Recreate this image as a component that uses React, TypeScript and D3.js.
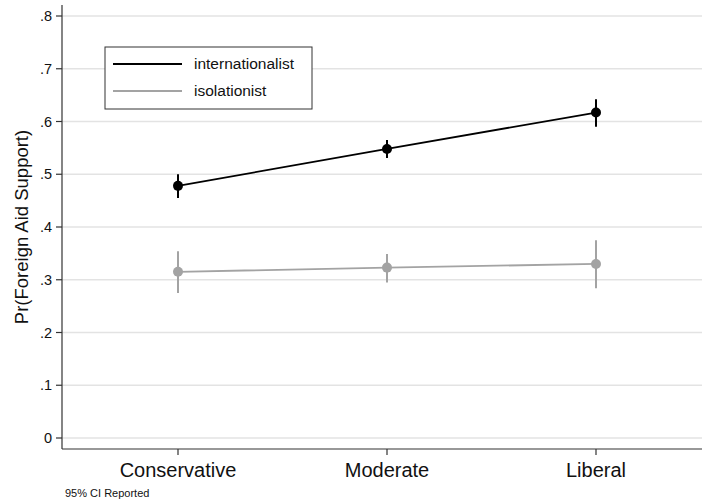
import * as d3 from "d3";

const categories = ["Conservative", "Moderate", "Liberal"];
const yTicks = [0, 0.1, 0.2, 0.3, 0.4, 0.5, 0.6, 0.7, 0.8];

// point estimate, lower and upper 95% CI
const internationalist = [0.478, 0.548, 0.617];
const internationalistLo = [0.455, 0.531, 0.59];
const internationalistHi = [0.5, 0.565, 0.642];

const isolationist = [0.315, 0.323, 0.33];
const isolationistLo = [0.275, 0.295, 0.284];
const isolationistHi = [0.354, 0.349, 0.375];

const series = [
  { name: "internationalist", color: "#000000", est: internationalist, lo: internationalistLo, hi: internationalistHi },
  { name: "isolationist", color: "#a3a3a3", est: isolationist, lo: isolationistLo, hi: isolationistHi },
];

export default function App() {
  const width = 703;
  const height = 504;
  const left = 62;
  const right = 702;
  const top = 5;
  const bottom = 449;
  const font = "'Liberation Sans', Arial, Helvetica, sans-serif";

  const x = d3.scaleLinear().domain([0, 2]).range([178, 596]);
  const y = d3.scaleLinear().domain([0, 0.8]).range([438, 16]);

  const line = d3
    .line<number>()
    .x((_, i) => x(i))
    .y((d) => y(d));

  const fmt = (d: number) => (d === 0 ? "0" : d3.format(".1f")(d).replace(/^0/, ""));

  return (
    <svg
      width={width}
      height={height}
      style={{ position: "absolute", left: 0, top: 0, background: "#fff" }}
      fontFamily={font}
    >
      {/* gridlines */}
      {yTicks.map((t) => (
        <line key={"g" + t} x1={left} x2={right} y1={y(t)} y2={y(t)} stroke="#e3e3e3" strokeWidth={1.5} />
      ))}

      {/* y axis */}
      <line x1={left} x2={left} y1={top} y2={bottom} stroke="#333" strokeWidth={1.2} />
      {yTicks.map((t) => (
        <g key={"t" + t}>
          <line x1={left - 6} x2={left} y1={y(t)} y2={y(t)} stroke="#333" strokeWidth={1.2} />
          <text x={left - 10} y={y(t)} dy="0.35em" textAnchor="end" fontSize={14.5} fill="#111">
            {fmt(t)}
          </text>
        </g>
      ))}
      <text
        transform={`translate(22,${(top + bottom) / 2}) rotate(-90)`}
        textAnchor="middle"
        dy="0.35em"
        fontSize={18.5}
        fill="#111"
      >
        Pr(Foreign Aid Support)
      </text>

      {/* x axis */}
      <line x1={left} x2={right} y1={bottom} y2={bottom} stroke="#333" strokeWidth={1.2} />
      {categories.map((c, i) => (
        <g key={c}>
          <line x1={x(i)} x2={x(i)} y1={bottom} y2={bottom + 6} stroke="#333" strokeWidth={1.2} />
          <text x={x(i)} y={bottom + 21} dy="0.35em" textAnchor="middle" fontSize={20} fill="#111">
            {c}
          </text>
        </g>
      ))}

      {/* series */}
      {series.map((s) => (
        <g key={s.name}>
          {s.est.map((_, i) => (
            <line
              key={"ci" + i}
              x1={x(i)}
              x2={x(i)}
              y1={y(s.lo[i])}
              y2={y(s.hi[i])}
              stroke={s.color}
              strokeWidth={2}
            />
          ))}
          <path d={line(s.est) ?? ""} fill="none" stroke={s.color} strokeWidth={1.8} />
          {s.est.map((v, i) => (
            <circle key={"p" + i} cx={x(i)} cy={y(v)} r={5} fill={s.color} />
          ))}
        </g>
      ))}

      {/* legend */}
      <rect x={105} y={47} width={207} height={62} fill="#fff" stroke="#333" strokeWidth={1} />
      {series.map((s, i) => (
        <g key={"l" + s.name}>
          <line x1={113} x2={182} y1={64 + i * 27} y2={64 + i * 27} stroke={s.color} strokeWidth={1.8} />
          <text x={194} y={64 + i * 27} dy="0.35em" fontSize={15.5} fill="#111">
            {s.name}
          </text>
        </g>
      ))}

      <text x={65} y={493} dy="0.35em" fontSize={11} fill="#111">
        95% CI Reported
      </text>
    </svg>
  );
}
